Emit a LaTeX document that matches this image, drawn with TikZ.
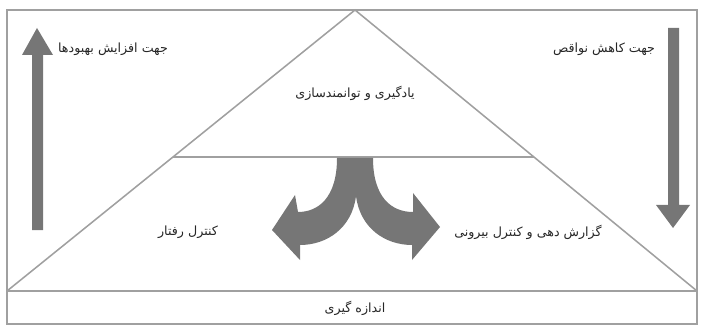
\documentclass[tikz,border=0pt]{standalone}
\usepackage{fontspec}
\usetikzlibrary{calc}
\newfontfamily\arabicfont[Script=Arabic]{DejaVu Sans}
\TeXXeTstate=1
\definecolor{linegray}{RGB}{160,160,160}
\definecolor{arrowgray}{RGB}{118,118,118}

\begin{document}
\begin{tikzpicture}[x=0.025cm,y=-0.025cm,
    frame/.style={draw=linegray,line width=1.1pt},
    fatext/.style={font=\arabicfont\fontsize{9}{10}\selectfont,text=black!85},
    bigarrow/.style={fill=arrowgray,draw=none}]
    \useasboundingbox (0,0) rectangle (701,327);
    % frame and pyramid
    \draw [frame] (7,10) rectangle (697,324);
    \coordinate (apex) at (355,10);
    \coordinate (bl) at (7,291);
    \coordinate (br) at (697,291);
    \draw [frame] (bl) -- (apex) -- (br);
    \draw [frame] (bl) -- (br);
    \draw [frame] ($(bl)!0.477!(apex)$) coordinate (ml) -- ($(br)!0.477!(apex)$) coordinate (mr);
    % side arrows
    \fill [bigarrow] (32,230) -- (32,55) -- (22,55) -- (37,28) -- (53,55) -- (43,55) -- (43,230) -- cycle;
    \fill [bigarrow] (668,28) -- (668,205) -- (656,205) -- (673,228) -- (690,205) -- (679,205) -- (679,28) -- cycle;
    % split arrow
    \fill [bigarrow] (337,158) -- (373,158)
        .. controls (373,198) and (392,212) .. (413,212)
        -- (413,193) -- (440,227) -- (412,260) -- (412,245)
        .. controls (385,245) and (360,228) .. (356,196)
        .. controls (352,228) and (327,245) .. (300,245)
        -- (300,260) -- (272,230) -- (295,195) -- (298,212)
        .. controls (318,212) and (337,198) .. (337,158) -- cycle;
    % labels
    \node [fatext] (up) at (113,49) {\beginR جهت افزایش بهبودها\endR};
    \node [fatext] (down) at (604,49) {\beginR جهت کاهش نواقص\endR};
    \node [fatext] (learn) at (355,93) {\beginR یادگیری و توانمندسازی\endR};
    \node [fatext] (behav) at (188,232) {\beginR کنترل رفتار\endR};
    \node [fatext] (report) at (528,232) {\beginR گزارش دهی و کنترل بیرونی\endR};
    \node [fatext] (measure) at (355,308) {\beginR اندازه گیری\endR};
\end{tikzpicture}
\end{document}
